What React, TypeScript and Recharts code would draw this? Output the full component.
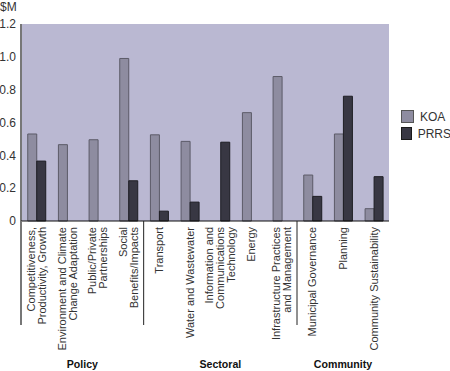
import { BarChart, Bar, XAxis, YAxis, CartesianGrid, Legend } from "recharts";

// category labels, one entry per line of the rotated text
const categoryLines: string[][] = [
  ["Competitiveness,", "Productivity, Growth"],
  ["Environment and Climate", "Change Adaptation"],
  ["Public/Private", "Partnerships"],
  ["Social", "Benefits/Impacts"],
  ["Transport"],
  ["Water and Wastewater"],
  ["Information and", "Communications", "Technology"],
  ["Energy"],
  ["Infrastructure Practices", "and Management"],
  ["Municipal Governance"],
  ["Planning"],
  ["Community Sustainability"],
];

const koaValues = [0.53, 0.465, 0.495, 0.99, 0.525, 0.485, null, 0.66, 0.88, 0.28, 0.53, 0.075];
const prrsValues = [0.365, null, null, 0.245, 0.06, 0.115, 0.48, null, null, 0.15, 0.76, 0.27];

const groupNames = ["Policy", "Sectoral", "Community"];
const groupSizes = [4, 5, 3];

const yTicks = [0, 0.2, 0.4, 0.6, 0.8, 1.0, 1.2];

const data = categoryLines.map((lines, i) => ({
  name: lines.join(" "),
  KOA: koaValues[i],
  PRRS: prrsValues[i],
}));

const groupStarts = groupSizes.map((_, g) =>
  groupSizes.slice(0, g).reduce((a, b) => a + b, 0),
);

const FONT = '"Liberation Sans", Arial, Helvetica, sans-serif';
const KOA_FILL = "#8e8ca0";
const PRRS_FILL = "#383743";

function CategoryTick(props: any) {
  const { x, y, payload, index } = props;
  const i: number = payload?.index ?? index;
  const count: number = props.visibleTicksCount || categoryLines.length;
  const step = (props.width || 368) / count;
  const lines = categoryLines[i] || [];
  const lineGap = 11;
  const g = groupStarts.indexOf(i);

  return (
    <g>
      <g transform={`translate(${x},${y}) rotate(-90)`}>
        <text textAnchor="end" fontSize={11} fill="#333" fontFamily={FONT}>
          {lines.map((ln, k) => (
            <tspan key={k} x={0} y={(k - (lines.length - 1) / 2) * lineGap + 4}>
              {ln}
            </tspan>
          ))}
        </text>
      </g>
      {g >= 0 && (
        <>
          <line
            x1={x - step / 2}
            x2={x - step / 2}
            y1={y - 6}
            y2={y + 98}
            stroke={g === 0 ? "#777" : "#222"}
            strokeWidth={g === 0 ? 2 : 1}
          />
          <text
            x={x - step / 2 + (groupSizes[g] * step) / 2}
            y={y + 141}
            textAnchor="middle"
            fontSize={10.6}
            fontWeight="bold"
            fill="#111"
            fontFamily={FONT}
          >
            {groupNames[g]}
          </text>
        </>
      )}
    </g>
  );
}

function LegendContent() {
  const items = [
    { label: "KOA", fill: KOA_FILL, stroke: "#555" },
    { label: "PRRS", fill: PRRS_FILL, stroke: "#1a1a1a" },
  ];
  return (
    <div style={{ fontFamily: FONT, fontSize: 12, color: "#333" }}>
      {items.map((it) => (
        <div key={it.label} style={{ display: "flex", alignItems: "center", height: 17 }}>
          <span
            style={{
              display: "inline-block",
              width: 11,
              height: 11,
              background: it.fill,
              border: `1px solid ${it.stroke}`,
              marginRight: 6,
            }}
          />
          {it.label}
        </div>
      ))}
    </div>
  );
}

export default function App() {
  return (
    <div style={{ position: "absolute", left: 0, top: 0, width: 450, height: 371, background: "#fff" }}>
      <BarChart
        width={450}
        height={371}
        data={data}
        margin={{ top: 24, right: 61, bottom: 0, left: 0 }}
        barCategoryGap="22%"
        barGap={0}
      >
        <CartesianGrid horizontal={false} vertical={false} fill="#bab8d2" stroke="none" />
        <text x={0} y={11} fontSize={12} fill="#333" fontFamily={FONT}>
          $M
        </text>
        <YAxis
          width={21}
          domain={[0, 1.2]}
          ticks={yTicks}
          tickFormatter={(v: number) => (v === 0 ? "0" : v.toFixed(1))}
          axisLine={{ stroke: "#777", strokeWidth: 2 }}
          tickLine={false}
          tickSize={4}
          tickMargin={1}
          tick={{ fontSize: 12, fill: "#333", fontFamily: FONT }}
        />
        <XAxis
          dataKey="name"
          height={150}
          interval={0}
          axisLine={{ stroke: "#111", strokeWidth: 1 }}
          tickLine={false}
          tickSize={0}
          tickMargin={6}
          tick={<CategoryTick />}
        />
        <Legend
          content={<LegendContent />}
          layout="horizontal"
          verticalAlign="middle"
          align="center"
          wrapperStyle={{ position: "absolute", left: 401, top: 108, width: 50 }}
        />
        <Bar dataKey="KOA" fill={KOA_FILL} stroke="#5c5b68" strokeWidth={1} isAnimationActive={false} />
        <Bar dataKey="PRRS" fill={PRRS_FILL} stroke="#1e1e24" strokeWidth={1} isAnimationActive={false} />
      </BarChart>
    </div>
  );
}
